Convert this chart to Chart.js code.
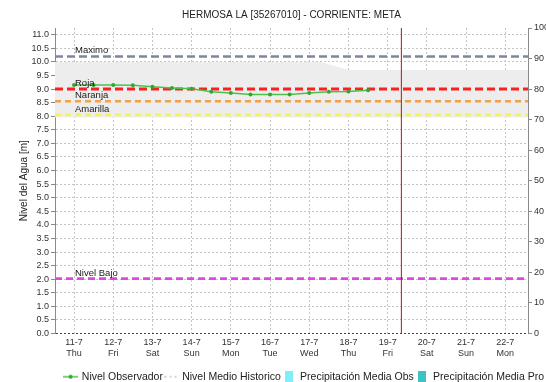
<!DOCTYPE html>
<html>
<head>
<meta charset="utf-8">
<script src="https://cdn.jsdelivr.net/npm/chart.js@4.4.1/dist/chart.umd.min.js"></script>
<style>
  html, body { margin: 0; padding: 0; background: #ffffff; }
  #wrap { width: 546px; height: 382px; position: relative; }
</style>
</head>
<body>
<div id="wrap"><canvas id="c"></canvas></div>
<script>
// ---- data ----
const dayLabels = ['11-7','12-7','13-7','14-7','15-7','16-7','17-7','18-7','19-7','20-7','21-7','22-7'];
const weekdays  = ['Thu','Fri','Sat','Sun','Mon','Tue','Wed','Thu','Fri','Sat','Sun','Mon'];
// observation times, in days after 11-7 00:00
const obsDays   = [0, 0.5, 1, 1.5, 2, 2.5, 3, 3.5, 4, 4.5, 5, 5.5, 6, 6.5, 7, 7.5];
const obsLevels = [9.15, 9.15, 9.15, 9.14, 9.09, 9.04, 9.01, 8.90, 8.86, 8.80, 8.80, 8.80, 8.86, 8.90, 8.91, 8.96];
const thresholdNames  = ['Maximo', 'Roja', 'Naranja', 'Amarilla', 'Nivel Bajo'];
const thresholdLevels = [10.2, 9.0, 8.55, 8.05, 2.02];
// historic band (days, upper, lower)
const bandDays  = [-0.5, 6.3, 7.0, 11.6];
const bandUpper = [10.0, 10.0, 9.7, 9.7];
const bandLower = [7.95, 7.95, 7.95, 7.95];
const nowDay = 8.35;            // current-time marker (19-7 ~08:00)
const levelTicks = [0,0.5,1,1.5,2,2.5,3,3.5,4,4.5,5,5.5,6,6.5,7,7.5,8,8.5,9,9.5,10,10.5,11];

// ---- styles ----
const X_MIN = -0.485, X_MAX = 11.58, Y_MAX = 11.25;
const thresholdColors = ['#7b86a3', '#ff1e1e', '#f2a24a', '#f6f25a', '#e246e2'];
const thresholdDash   = [[8,4], [8,4], [6,4], [6,4], [7,4]];
const FONT = '"Liberation Sans", Arial, sans-serif';

function markerCanvas(kind, color) {
  const cv = document.createElement('canvas');
  const ctx = cv.getContext('2d');
  if (kind === 'lineDot') {
    cv.width = 15; cv.height = 6;
    ctx.strokeStyle = color; ctx.lineWidth = 1.5;
    ctx.beginPath(); ctx.moveTo(0, 3); ctx.lineTo(15, 3); ctx.stroke();
    ctx.fillStyle = '#2fa82f';
    ctx.beginPath(); ctx.arc(7.5, 3, 2, 0, Math.PI * 2); ctx.fill();
  } else if (kind === 'dots') {
    cv.width = 13; cv.height = 4;
    ctx.strokeStyle = color; ctx.lineWidth = 1;
    ctx.setLineDash([2, 3]);
    ctx.beginPath(); ctx.moveTo(0, 2); ctx.lineTo(13, 2); ctx.stroke();
  } else {
    cv.width = 8; cv.height = 11;
    ctx.fillStyle = color; ctx.fillRect(0, 0, 8, 11);
  }
  return cv;
}

const datasets = [
  { label: 'Nivel Observador', type: 'line',
    data: obsDays.map((d, i) => ({ x: d, y: obsLevels[i] })),
    borderColor: '#4cc24c', backgroundColor: '#2fa82f', borderWidth: 1.5,
    pointRadius: 2, pointBorderWidth: 0, pointBackgroundColor: '#2fa82f',
    yAxisID: 'y', legendMarker: markerCanvas('lineDot', '#4cc24c') },
  { label: 'Nivel Medio Historico', type: 'line', data: [],
    borderColor: '#b0b0b0', borderDash: [2, 3], borderWidth: 1, pointRadius: 0,
    yAxisID: 'y', legendMarker: markerCanvas('dots', '#aaaaaa') },
  { label: 'Precipitación Media Obs', type: 'bar', data: [],
    backgroundColor: '#7ff0fa', yAxisID: 'y2', legendMarker: markerCanvas('box', '#7ff0fa') },
  { label: 'Precipitación Media Pro', type: 'bar', data: [],
    backgroundColor: '#3cc4c4', yAxisID: 'y2', legendMarker: markerCanvas('box', '#3cc4c4') },
];

// current-time marker
datasets.push({ label: '_now', type: 'line',
  data: [{ x: nowDay, y: 0 }, { x: nowDay, y: Y_MAX }],
  borderColor: '#b81414', borderWidth: 1, pointRadius: 0, yAxisID: 'y' });

// threshold lines
thresholdLevels.forEach((lv, i) => {
  datasets.push({ label: '_th' + i, type: 'line',
    data: [{ x: X_MIN, y: lv }, { x: X_MAX, y: lv }],
    borderColor: thresholdColors[i], borderDash: thresholdDash[i],
    borderWidth: i === 1 ? 3 : 2.6, pointRadius: 0, yAxisID: 'y' });
});

// historic band
datasets.push({ label: '_bandUpper', type: 'line',
  data: bandDays.map((d, i) => ({ x: d, y: bandUpper[i] })),
  borderWidth: 0, pointRadius: 0, fill: '+1', backgroundColor: '#ededed', yAxisID: 'y' });
datasets.push({ label: '_bandLower', type: 'line',
  data: bandDays.map((d, i) => ({ x: d, y: bandLower[i] })),
  borderWidth: 0, pointRadius: 0, fill: false, yAxisID: 'y' });

const thresholdLabels = {
  id: 'thresholdLabels',
  afterDatasetsDraw(chart) {
    const { ctx, scales: { x, y } } = chart;
    ctx.save();
    ctx.font = '9.5px ' + FONT;
    ctx.fillStyle = '#1a1a1a';
    ctx.textAlign = 'left';
    ctx.textBaseline = 'bottom';
    thresholdNames.forEach((name, i) => {
      ctx.fillText(name, x.getPixelForValue(0) + 1, y.getPixelForValue(thresholdLevels[i]) - 1);
    });
    ctx.restore();
  }
};

new Chart(document.getElementById('c'), {
  type: 'scatter',
  data: { datasets },
  plugins: [thresholdLabels],
  options: {
    responsive: true, maintainAspectRatio: false, animation: false,
    layout: { padding: { top: 0, left: 0, right: 0, bottom: -10 } },
    plugins: {
      tooltip: { enabled: false },
      title: { display: true, fullSize: false, text: 'HERMOSA LA [35267010] - CORRIENTE: META',
        color: '#222', font: { family: FONT, size: 10, weight: 'normal' },
        padding: { top: 9, bottom: 7 } },
      legend: {
        position: 'bottom', align: 'end',
        labels: {
          usePointStyle: true, pointStyleWidth: 12, boxHeight: 11,
          padding: 2, color: '#222', font: { family: FONT, size: 10.5 },
          generateLabels(chart) {
            return chart.data.datasets
              .filter(ds => !ds.label.startsWith('_'))
              .map(ds => ({ text: ds.label, pointStyle: ds.legendMarker,
                fillStyle: 'transparent', strokeStyle: 'transparent', lineWidth: 0,
                fontColor: '#222', hidden: false }));
          }
        }
      }
    },
    scales: {
      x: {
        type: 'linear', min: X_MIN, max: X_MAX, offset: false,
        afterBuildTicks: s => { s.ticks = dayLabels.map((_, i) => ({ value: i })); },
        afterFit: s => { s.height = 36; },
        ticks: { autoSkip: false, maxRotation: 0, padding: 4, color: '#333',
          font: { family: FONT, size: 9 },
          callback: v => [dayLabels[v], weekdays[v]] },
        grid: { color: '#c4c4c4', drawTicks: false, offset: false },
        border: { display: false, dash: [2, 2] }
      },
      y: {
        position: 'left', min: 0, max: Y_MAX,
        afterBuildTicks: s => { s.ticks = levelTicks.map(v => ({ value: v })); },
        afterFit: s => { s.width = 55; },
        ticks: { color: '#333', padding: 2, font: { family: FONT, size: 9 },
          callback: v => Number(v).toFixed(1) },
        grid: { color: ctx => (ctx.tick && ctx.tick.value === 0) ? '#444' : '#c4c4c4',
          tickColor: '#888', tickLength: 4, tickBorderDash: [] },
        border: { color: '#8a8a8a', width: 1, dash: [2, 2] },
        title: { display: true, text: 'Nivel del Agua [m]', color: '#222',
          font: { family: FONT, size: 10 }, padding: { top: 18, bottom: 0 } }
      },
      y2: {
        position: 'right', min: 0, max: 100,
        ticks: { stepSize: 10, color: '#333', padding: 2, font: { family: FONT, size: 9 } },
        afterFit: s => { s.width = 18; },
        grid: { drawOnChartArea: false, tickColor: '#888', tickLength: 4 },
        border: { color: '#8a8a8a', width: 1 }
      }
    }
  }
});
</script>
</body>
</html>
